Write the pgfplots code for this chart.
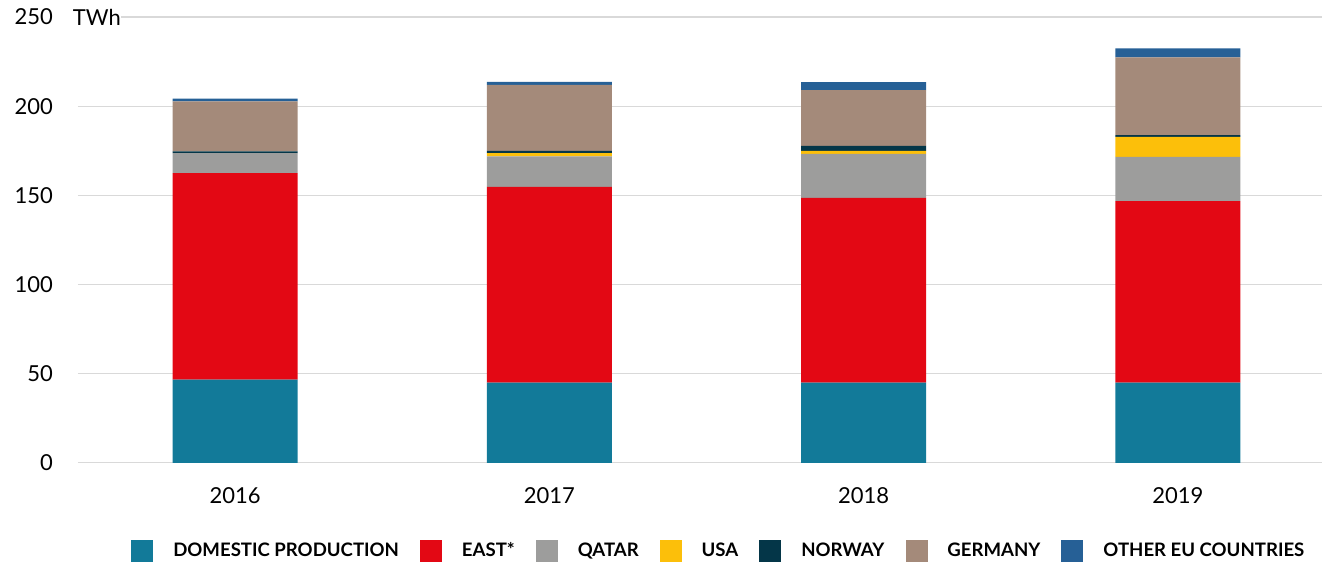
\documentclass[border=0pt]{standalone}
\usepackage{pgfplots}
\pgfplotsset{compat=1.18}
\usepackage{fontspec}
\setmainfont{Lato}
\definecolor{cDom}{RGB}{18,122,153}
\definecolor{cEast}{RGB}{227,8,20}
\definecolor{cQat}{RGB}{157,157,156}
\definecolor{cUsa}{RGB}{252,191,10}
\definecolor{cNor}{RGB}{4,54,72}
\definecolor{cGer}{RGB}{164,138,122}
\definecolor{cOth}{RGB}{38,96,150}
\begin{document}
\begin{tikzpicture}
\begin{axis}[
  scale only axis,
  width=1245pt, height=446pt,
  clip=false,
  ybar stacked,
  bar width=125pt,
  xmin=-0.5, xmax=3.46,
  ymin=0, ymax=250,
  xtick={0,1,2,3},
  xticklabels={2016,2017,2018,2019},
  ytick={0,50,100,150,200,250},
  major tick length=0pt,
  axis x line*=bottom,
  axis y line*=left,
  axis line style={draw=none},
  ymajorgrids,
  grid style={draw=black!15, line width=1.2pt},
  /pgf/number format/assume math mode=true,
  ticklabel style={font=\fontsize{22}{26}\selectfont},
  yticklabel style={anchor=east, inner sep=0pt, xshift=-25pt},
  xticklabel style={inner sep=0pt, yshift=-41pt, anchor=base},
  legend columns=-1,
  legend style={draw=none, at={(0.515,-0.197)}, anchor=center,
    font=\fontsize{18.6}{22}\selectfont\bfseries,
    /tikz/every even column/.append style={column sep=19pt},
    inner sep=0pt},
  legend image code/.code={\fill[#1] (0pt,-11pt) rectangle (22pt,11pt);},
  legend cell align=left,
]
\addplot[fill=cDom, draw=none] coordinates {(0,46.6) (1,44.9) (2,44.9) (3,44.9)};
\addplot[fill=cEast, draw=none] coordinates {(0,115.8) (1,109.8) (2,103.6) (3,101.9)};
\addplot[fill=cQat, draw=none] coordinates {(0,11.2) (1,17.2) (2,24.7) (3,24.7)};
\addplot[fill=cUsa, draw=none] coordinates {(0,0) (1,1.7) (2,1.7) (3,11.2)};
\addplot[fill=cNor, draw=none] coordinates {(0,1.1) (1,1.3) (2,2.8) (3,1.1)};
\addplot[fill=cGer, draw=none] coordinates {(0,28.0) (1,37.0) (2,31.3) (3,43.5)};
\addplot[fill=cOth, draw=none] coordinates {(0,1.5) (1,1.7) (2,4.5) (3,5.1)};
\legend{\hspace{18pt}DOMESTIC PRODUCTION,\hspace{18pt}EAST*,\hspace{18pt}QATAR,\hspace{18pt}USA,\hspace{18pt}NORWAY,\hspace{18pt}GERMANY,\hspace{18pt}OTHER EU COUNTRIES}
\draw[black!15, line width=1.2pt] (rel axis cs:0,0) -- (rel axis cs:1,0);
\node[anchor=west, font=\fontsize{22}{26}\selectfont, inner xsep=0pt, inner ysep=3pt, fill=white] at (rel axis cs:0,1) [xshift=-5.3pt] {TWh\hspace{20pt}};
\end{axis}
\path ([xshift=-78pt,yshift=-96pt]current axis.south west) rectangle ([yshift=17pt]current axis.north east);
\end{tikzpicture}
\end{document}
